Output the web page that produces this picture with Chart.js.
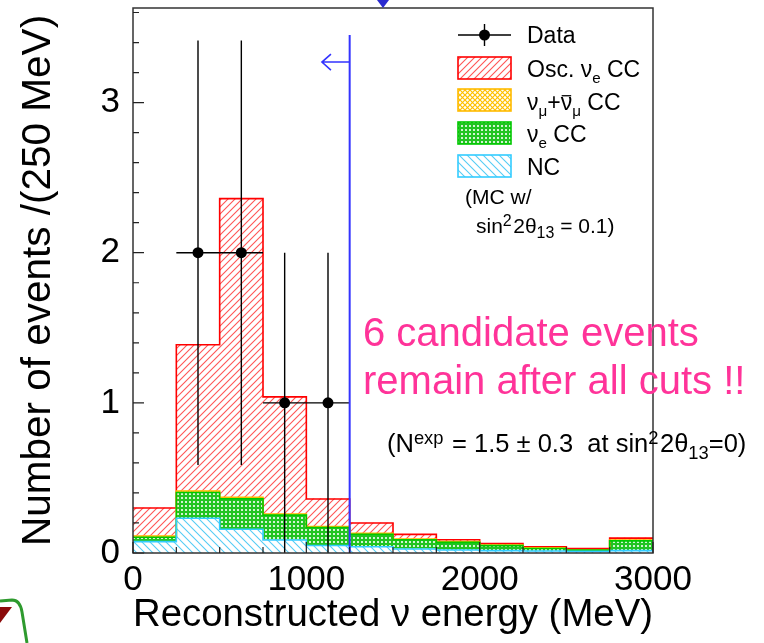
<!DOCTYPE html>
<html><head><meta charset="utf-8">
<script src="https://cdn.jsdelivr.net/npm/chart.js@4.4.1/dist/chart.umd.min.js"></script>
<style>html,body{margin:0;padding:0;background:#fff;overflow:hidden}</style>
</head><body>
<canvas id="c" width="764" height="643" style="width:764px;height:643px;display:block"></canvas>
<script>
// ---------------- data ----------------
const binEdges = [0,250,500,750,1000,1250,1500,1750,2000,2250,2500,2750,3000];
const ncCounts     = [0.076,0.231,0.158,0.087,0.050,0.042,0.027,0.020,0.016,0.013,0.011,0.016];
const nueCCCounts  = [0.029,0.172,0.203,0.165,0.120,0.083,0.061,0.051,0.033,0.017,0.008,0.065];
const numuCCCounts = [0.008,0.010,0.010,0.008,0.006,0.006,0.005,0.005,0.004,0.004,0.003,0.006];
const oscNueCounts = [0.187,0.974,1.989,0.780,0.184,0.069,0.031,0.012,0.010,0.008,0.008,0.012];
const dataEnergy = [375,625,875,1125];
const dataCounts = [2,2,1,1];
const dataHalfWidth = [125,125,125,125];
const xTickValues = [0,1000,2000,3000];
const yTickValues = [0,1,2,3];
const xMinorStep = 250, yMinorStep = 0.2;
const cutEnergy = 1250, cutTop = 3.45, arrowLevel = 3.27, arrowTipEnergy = 1090;

const FONT = '"Liberation Sans", Arial, Helvetica, sans-serif';
const centers = binEdges.slice(0,-1).map((e,i)=>(e+binEdges[i+1])/2);
const cum = (...arrs)=>arrs[0].map((_,i)=>arrs.reduce((s,a)=>s+a[i],0));
const topNC = cum(ncCounts);
const topNue = cum(ncCounts,nueCCCounts);
const topNumu = cum(ncCounts,nueCCCounts,numuCCCounts);
const topAll = cum(ncCounts,nueCCCounts,numuCCCounts,oscNueCounts);
const stepPts = arr => binEdges.map((e,i)=>({x:e, y:arr[Math.min(i,arr.length-1)]}));
const barPts = arr => centers.map((c,i)=>({x:c, y:arr[i]}));

// ---------------- patterns ----------------
const cv = document.getElementById('c');
const ctx0 = cv.getContext('2d');
function hatch(color, dir, s, lw){
  const c=document.createElement('canvas'); c.width=c.height=s; const g=c.getContext('2d');
  g.fillStyle='#fff'; g.fillRect(0,0,s,s);
  g.strokeStyle=color; g.lineWidth=lw; g.beginPath();
  for (let k=-1;k<=1;k++){
    if (dir>0){ g.moveTo(k*s-1, s+1); g.lineTo(k*s+s+1, -1); }
    else { g.moveTo(k*s-1, -1); g.lineTo(k*s+s+1, s+1); }
  }
  g.stroke();
  return ctx0.createPattern(c,'repeat');
}
function dots(bg, dot, s, d){
  const c=document.createElement('canvas'); c.width=c.height=s; const g=c.getContext('2d');
  g.fillStyle=bg; g.fillRect(0,0,s,s); g.fillStyle=dot; g.fillRect(1,1,d,d);
  return ctx0.createPattern(c,'repeat');
}
function cross(color, s){
  const c=document.createElement('canvas'); c.width=c.height=s; const g=c.getContext('2d');
  g.fillStyle='#fff'; g.fillRect(0,0,s,s); g.strokeStyle=color; g.lineWidth=1.2; g.beginPath();
  g.moveTo(0,0); g.lineTo(s,s); g.moveTo(0,s); g.lineTo(s,0); g.stroke();
  return ctx0.createPattern(c,'repeat');
}
const redPat = hatch('#ff5555', 1, 7, 1.1);
const cyanPat = hatch('#55ccf5', -1, 8, 1.1);
const greenPat = dots('#22c422', 'rgba(255,255,255,0.8)', 4, 2);
const yellowPat = cross('#ffc000', 5);
const C_RED='#ff0000', C_YEL='#ffbb00', C_GRN='#00c800', C_CYN='#33ccff';

// ---------------- plugin drawing ----------------
function richText(ctx, x, y, parts, size, color, sc){
  sc = sc || 0.66;
  let cx=x; ctx.fillStyle=color; ctx.textBaseline='alphabetic'; ctx.textAlign='left';
  for (const p of parts){
    let s=size, dy=0;
    if (p.k==='sub'){ s=size*sc; dy=size*0.26; }
    if (p.k==='sup'){ s=size*sc; dy=-size*0.33; }
    ctx.font = s+'px '+FONT;
    ctx.fillText(p.t, cx, y+dy);
    const w = ctx.measureText(p.t).width;
    if (p.over){ ctx.save(); ctx.strokeStyle=color; ctx.lineWidth=1.3; ctx.beginPath();
      ctx.moveTo(cx+1, y-size*0.62); ctx.lineTo(cx+w-1, y-size*0.62); ctx.stroke(); ctx.restore(); }
    cx += w + (p.k==='sup' ? 1.5 : 0);
  }
  return cx;
}

const overlay = {
  id:'overlay',
  afterDatasetsDraw(chart){
    const {ctx, chartArea:a, scales:{x,y}} = chart;
    ctx.save();
    // error bars
    ctx.strokeStyle='#000'; ctx.lineWidth=1.4;
    dataEnergy.forEach((e,i)=>{
      const n=dataCounts[i], err=Math.sqrt(n);
      const py=y.getPixelForValue(n);
      ctx.beginPath();
      ctx.moveTo(x.getPixelForValue(e-dataHalfWidth[i]), py);
      ctx.lineTo(x.getPixelForValue(e+dataHalfWidth[i]), py);
      ctx.moveTo(x.getPixelForValue(e), y.getPixelForValue(Math.max(0,n-err)));
      ctx.lineTo(x.getPixelForValue(e), y.getPixelForValue(n+err));
      ctx.stroke();
      ctx.fillStyle='#000'; ctx.beginPath(); ctx.arc(x.getPixelForValue(e), py, 5.5, 0, Math.PI*2); ctx.fill();
    });
    // cut line + arrow
    const cx=x.getPixelForValue(cutEnergy);
    ctx.strokeStyle='#3333ff'; ctx.lineWidth=2;
    ctx.beginPath(); ctx.moveTo(cx, y.getPixelForValue(0)); ctx.lineTo(cx, y.getPixelForValue(cutTop)); ctx.stroke();
    const ay=y.getPixelForValue(arrowLevel), tx=x.getPixelForValue(arrowTipEnergy);
    ctx.lineWidth=1.6;
    ctx.beginPath(); ctx.moveTo(cx, ay); ctx.lineTo(tx, ay);
    ctx.moveTo(tx+9, ay-8); ctx.lineTo(tx, ay); ctx.lineTo(tx+9, ay+8); ctx.stroke();
    // frame
    ctx.strokeStyle='#333'; ctx.lineWidth=1.5;
    ctx.strokeRect(a.left, a.top, a.right-a.left, a.bottom-a.top);
    // ticks
    ctx.strokeStyle='#222'; ctx.lineWidth=1.2; ctx.beginPath();
    for (let v=0; v<=y.max+1e-9; v+=yMinorStep){
      const major = Math.abs(v-Math.round(v))<1e-6;
      const py=y.getPixelForValue(v);
      ctx.moveTo(a.left, py); ctx.lineTo(a.left+(major?11:6), py);
    }
    for (let v=0; v<=x.max; v+=xMinorStep){
      const major = v%1000===0;
      const px=x.getPixelForValue(v);
      ctx.moveTo(px, a.bottom); ctx.lineTo(px, a.bottom-(major?11:6));
    }
    ctx.stroke();
    ctx.restore();
  },
  afterDraw(chart){
    const ctx=chart.ctx; ctx.save();
    // legend
    const bx=458, bw=53, bh=22;
    ctx.strokeStyle='#000'; ctx.lineWidth=1.4;
    ctx.beginPath(); ctx.moveTo(bx,35); ctx.lineTo(bx+bw,35); ctx.moveTo(bx+bw/2,24); ctx.lineTo(bx+bw/2,46); ctx.stroke();
    ctx.fillStyle='#000'; ctx.beginPath(); ctx.arc(bx+bw/2,35,5.5,0,Math.PI*2); ctx.fill();
    const boxes=[[redPat,C_RED,57],[yellowPat,C_YEL,89],[greenPat,C_GRN,122],[cyanPat,C_CYN,155]];
    boxes.forEach(([p,c,yy])=>{ ctx.fillStyle=p; ctx.fillRect(bx,yy,bw,bh); ctx.strokeStyle=c; ctx.lineWidth=1.6; ctx.strokeRect(bx,yy,bw,bh); });
    const L=23, tx=527;
    richText(ctx,tx,43,[{t:'Data'}],L,'#000');
    richText(ctx,tx,77,[{t:'Osc. ν'},{t:'e',k:'sub'},{t:' CC'}],L,'#000');
    richText(ctx,tx,110,[{t:'ν'},{t:'μ',k:'sub'},{t:'+'},{t:'ν',over:true},{t:'μ',k:'sub'},{t:' CC'}],L,'#000');
    richText(ctx,tx,142,[{t:'ν'},{t:'e',k:'sub'},{t:' CC'}],L,'#000');
    richText(ctx,tx,175,[{t:'NC'}],L,'#000');
    richText(ctx,465,204,[{t:'(MC w/'}],21,'#000');
    richText(ctx,476,233,[{t:'sin'},{t:'2',k:'sup'},{t:'2θ'},{t:'13',k:'sub'},{t:' = 0.1)'}],21,'#000',0.76);
    // annotations
    richText(ctx,363,346,[{t:'6 candidate events'}],40,'#ff3399');
    richText(ctx,363,394,[{t:'remain after all cuts !!'}],40,'#ff3399');
    richText(ctx,387,452,[{t:'(N'},{t:'exp',k:'sup'},{t:' = 1.5 ± 0.3  at sin'},{t:'2',k:'sup'},{t:'2θ'},{t:'13',k:'sub'},{t:'=0)'}],25.5,'#000',0.72);
    // cropped decorations
    ctx.fillStyle='#2a2ad0'; ctx.beginPath(); ctx.moveTo(377,0); ctx.lineTo(389,0); ctx.lineTo(383,8); ctx.closePath(); ctx.fill();
    ctx.fillStyle='#8b0a0a'; ctx.beginPath(); ctx.moveTo(0,607); ctx.lineTo(12,607); ctx.lineTo(0,623); ctx.closePath(); ctx.fill();
    ctx.strokeStyle='#2e9a2e'; ctx.lineWidth=3; ctx.beginPath(); ctx.moveTo(0,601); ctx.lineTo(12,600);
    ctx.quadraticCurveTo(20,600,22,612); ctx.lineTo(27,643); ctx.stroke();
    ctx.restore();
  }
};

// ---------------- chart ----------------
const barDs = (label, arr, pat) => ({type:'bar', label, data:barPts(arr), backgroundColor:pat, borderWidth:0,
  barPercentage:1, categoryPercentage:1, order:2});
const stepDs = (label, arr, col, st) => ({type:'line', label, data:stepPts(arr), stepped:'before', borderColor:col,
  borderWidth:1.6, pointRadius:0, fill:false, stack:st, order:1});

new Chart(cv, {
  type:'bar',
  data:{datasets:[
    barDs('NC', ncCounts, cyanPat),
    barDs('νe CC', nueCCCounts, greenPat),
    barDs('νμ CC', numuCCCounts, yellowPat),
    barDs('Osc. νe CC', oscNueCounts, redPat),
    stepDs('NC top', topNC, C_CYN, 's1'),
    stepDs('νe top', topNue, C_GRN, 's2'),
    stepDs('νμ top', topNumu, C_YEL, 's3'),
    stepDs('total', topAll, C_RED, 's4')
  ]},
  options:{
    responsive:false, animation:false, devicePixelRatio:1,
    layout:{padding:{left:0,right:111,top:8,bottom:0}},
    plugins:{legend:{display:false}, tooltip:{enabled:false}},
    scales:{
      x:{type:'linear', min:0, max:3000, offset:false, stacked:true,
        grid:{display:false, drawTicks:false, offset:false}, border:{display:false},
        afterBuildTicks:s=>{ s.ticks = xTickValues.map(v=>({value:v})); },
        ticks:{font:{family:FONT,size:35}, color:'#000', padding:6, maxRotation:0, autoSkip:false, callback:v=>String(v)},
        title:{display:true, text:'Reconstructed ν energy (MeV)', font:{family:FONT,size:38.5}, color:'#000', padding:{top:0,bottom:5}},
        afterFit:s=>{ s.height=90; s.paddingLeft=0; s.paddingRight=0; }
      },
      y:{min:0, max:3.63, stacked:true,
        grid:{display:false, drawTicks:false}, border:{display:false},
        afterBuildTicks:s=>{ s.ticks = yTickValues.map(v=>({value:v})); },
        ticks:{font:{family:FONT,size:35}, color:'#000', padding:13, callback:v=>String(v)},
        title:{display:true, text:'Number of events /(250 MeV)', font:{family:FONT,size:40.5}, color:'#000', padding:{top:15,bottom:0}},
        afterFit:s=>{ s.width=133; s.paddingTop=0; s.paddingBottom=0; }
      }
    }
  },
  plugins:[overlay]
});
</script>
</body></html>
